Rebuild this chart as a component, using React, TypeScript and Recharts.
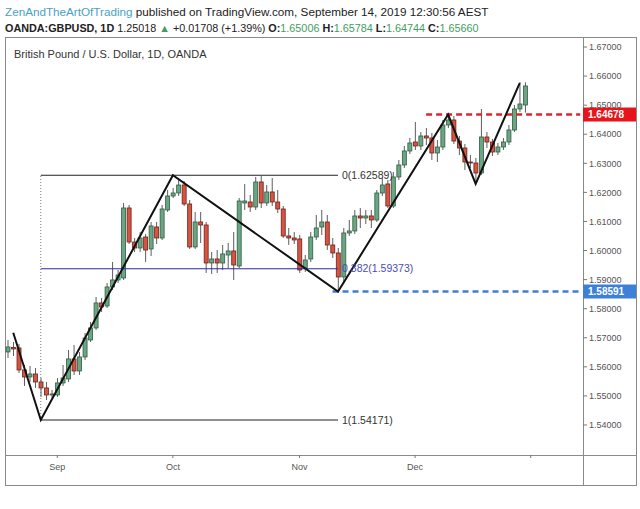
import { ComposedChart, Bar, Line, XAxis, YAxis, ReferenceLine } from 'recharts';

// GBPUSD daily candles (index 0 = first bar on the left)
const opens = [
  1.56512, 1.56666, 1.5665, 1.55893, 1.55652, 1.55755, 1.5548, 1.55274, 1.55033, 1.55033,
  1.55446, 1.55583, 1.56271, 1.55858, 1.5634, 1.56924, 1.57337, 1.58197, 1.58094, 1.58747,
  1.58988, 1.59057, 1.61464, 1.60294, 1.60088, 1.60466, 1.60054, 1.6081, 1.60432, 1.61395,
  1.61876, 1.61979, 1.62254, 1.61601, 1.60123, 1.60982, 1.60879, 1.59572, 1.5971, 1.59572,
  1.59847, 1.59985, 1.59469, 1.61636, 1.6167, 1.61498, 1.62358, 1.61636, 1.62014, 1.6167,
  1.61429, 1.60501, 1.60432, 1.60398, 1.594, 1.5971, 1.60466, 1.6081, 1.60982, 1.60191,
  1.59916, 1.59091, 1.60604, 1.60673, 1.61189, 1.6112, 1.61189, 1.61051, 1.61979, 1.62289,
  1.61532, 1.6253, 1.62942, 1.63424, 1.63733, 1.63596, 1.6394, 1.63871, 1.63355, 1.63561,
  1.64318, 1.6449, 1.63767, 1.63527, 1.63045, 1.63011, 1.62667, 1.63905, 1.63733, 1.63389,
  1.63561, 1.63733, 1.64146, 1.64868, 1.65006,
];
const highs = [
  1.56924, 1.56856, 1.56787, 1.56065, 1.5603, 1.55961, 1.55617, 1.5548, 1.55205, 1.55617,
  1.56065, 1.5658, 1.56752, 1.56512, 1.57165, 1.57543, 1.58403, 1.58369, 1.58885, 1.59607,
  1.59332, 1.61636, 1.61567, 1.60432, 1.60638, 1.60569, 1.60982, 1.60982, 1.61567, 1.62083,
  1.62151, 1.62495, 1.62392, 1.61739, 1.61326, 1.61326, 1.60982, 1.5995, 1.60019, 1.60191,
  1.6026, 1.60638, 1.61807, 1.62289, 1.61911, 1.6253, 1.62564, 1.62254, 1.62495, 1.62083,
  1.61532, 1.60776, 1.60638, 1.60535, 1.59847, 1.60638, 1.61223, 1.61395, 1.61223, 1.60432,
  1.60088, 1.60776, 1.61051, 1.61395, 1.61464, 1.61395, 1.61395, 1.62083, 1.62495, 1.62426,
  1.62701, 1.63114, 1.63596, 1.63871, 1.64421, 1.64077, 1.64215, 1.64043, 1.63802, 1.6449,
  1.64678, 1.64627, 1.6394, 1.63664, 1.63286, 1.63183, 1.64868, 1.64077, 1.63836, 1.63699,
  1.63871, 1.64318, 1.65005, 1.65796, 1.65784,
];
const lows = [
  1.56305, 1.56374, 1.5579, 1.55342, 1.5548, 1.55274, 1.54964, 1.54861, 1.5493, 1.54964,
  1.55342, 1.5548, 1.55721, 1.55721, 1.56237, 1.56856, 1.57268, 1.57887, 1.58025, 1.58644,
  1.58885, 1.58988, 1.60226, 1.5995, 1.5995, 1.59607, 1.59813, 1.60226, 1.60363, 1.61326,
  1.61807, 1.61876, 1.61532, 1.60054, 1.60054, 1.6026, 1.59228, 1.59194, 1.59228, 1.59332,
  1.594, 1.58988, 1.594, 1.61395, 1.61326, 1.61395, 1.61464, 1.61532, 1.61532, 1.61292,
  1.60432, 1.60191, 1.60226, 1.59228, 1.59263, 1.59607, 1.60363, 1.60535, 1.60019, 1.59744,
  1.58591, 1.58919, 1.60501, 1.60569, 1.60776, 1.60913, 1.60776, 1.60982, 1.61876, 1.61464,
  1.61464, 1.62426, 1.62839, 1.6332, 1.63458, 1.63458, 1.6363, 1.63114, 1.63045, 1.63458,
  1.64215, 1.63664, 1.63286, 1.6277, 1.62839, 1.62392, 1.62598, 1.63527, 1.63252, 1.63286,
  1.63458, 1.6363, 1.64077, 1.64765, 1.64744,
];
const closes = [
  1.56684, 1.56615, 1.55893, 1.55652, 1.55755, 1.5548, 1.55274, 1.55033, 1.55067, 1.55446,
  1.55617, 1.56271, 1.55858, 1.5634, 1.56993, 1.57337, 1.58197, 1.58059, 1.58747, 1.58988,
  1.5916, 1.61464, 1.60294, 1.60088, 1.60432, 1.60019, 1.60845, 1.60432, 1.61429, 1.61876,
  1.61979, 1.62254, 1.61601, 1.60123, 1.60982, 1.60879, 1.59572, 1.5971, 1.59572, 1.59882,
  1.59985, 1.59503, 1.61704, 1.61704, 1.61498, 1.62358, 1.61636, 1.62014, 1.6167, 1.61429,
  1.60501, 1.60432, 1.60363, 1.59332, 1.59675, 1.60466, 1.60776, 1.60982, 1.60191, 1.59916,
  1.59091, 1.60604, 1.60673, 1.61189, 1.6112, 1.61189, 1.61051, 1.61979, 1.62254, 1.61532,
  1.6253, 1.62942, 1.63424, 1.63699, 1.63596, 1.6394, 1.63871, 1.63355, 1.63561, 1.64318,
  1.6449, 1.63767, 1.63527, 1.63045, 1.63011, 1.62667, 1.63905, 1.63733, 1.63389, 1.63561,
  1.63733, 1.64146, 1.64868, 1.6504, 1.6566,
];

// hand-drawn zigzag (bar index -> price)
const zigIdx = [1, 6, 30, 60, 80, 85, 93];
const zigPrice = [1.5717, 1.54171, 1.62589, 1.58591, 1.64678, 1.6229, 1.6576];

// fib retracement
const fibLevels = [0, 0.382, 1];
const fibPrices = [1.62589, 1.59373, 1.54171];

const priceTicks = [1.54, 1.55, 1.56, 1.57, 1.58, 1.59, 1.6, 1.61, 1.62, 1.63, 1.64, 1.65, 1.66, 1.67];
const monthTicks = [9, 30, 53, 74, 95];
const monthLabels = ['Sep', 'Oct', 'Nov', 'Dec', ''];

const TOTAL_SLOTS = 105;
const UP = '#6ba583';
const DOWN = '#d75442';

const data = Array.from({ length: TOTAL_SLOTS }, (_, i) => {
  const z = zigIdx.indexOf(i);
  return {
    i,
    o: opens[i] ?? null,
    h: highs[i] ?? null,
    l: lows[i] ?? null,
    c: closes[i] ?? null,
    zz: z >= 0 ? zigPrice[z] : null,
  };
});

const Candle = (props: any) => {
  const { x, y, width, height, payload } = props;
  if (!payload || payload.o == null) return null;
  const { o, h, l, c } = payload;
  const top = Math.min(y, y + height);
  const full = Math.abs(height);
  const k = full / (h - l);
  const yO = top + (h - o) * k;
  const yC = top + (h - c) * k;
  const up = c >= o;
  const cx = x + width / 2;
  return (
    <g>
      <line x1={cx} x2={cx} y1={top} y2={top + full} stroke="#5d5d5d" strokeWidth={1} />
      <rect
        x={x}
        y={Math.min(yO, yC)}
        width={width}
        height={Math.max(1, Math.abs(yO - yC))}
        fill={up ? UP : DOWN}
        stroke={up ? '#2f5e43' : '#6b2219'}
        strokeWidth={0.8}
      />
    </g>
  );
};

const Badge = (props: any) => {
  const { viewBox, text, color } = props;
  if (!viewBox) return null;
  const x = viewBox.x + viewBox.width;
  const y = viewBox.y;
  return (
    <g>
      <rect x={x} y={y - 7} width={53} height={14} fill={color} />
      <text x={x + 5} y={y + 3.5} fill="#fff" fontSize={10} fontWeight="bold" fontFamily="Liberation Sans, Arial, sans-serif">
        {text}
      </text>
    </g>
  );
};

const green = '#3f9e5f';

export default function App() {
  return (
    <div style={{ position: 'absolute', left: 0, top: 0, width: 640, height: 509, background: '#fff', fontFamily: 'Liberation Sans, Arial, sans-serif' }}>
      <div style={{ position: 'absolute', left: 5, top: 5, fontSize: 11.7, color: '#222', whiteSpace: 'nowrap' }}>
        <span style={{ color: '#4a9fc8' }}>ZenAndTheArtOfTrading</span> published on TradingView.com, September 14, 2019 12:30:56 AEST
      </div>
      <div style={{ position: 'absolute', left: 5, top: 22, fontSize: 10.8, color: '#222', whiteSpace: 'nowrap' }}>
        <b>OANDA:GBPUSD, 1D</b> 1.25018 <span style={{ color: green }}>▲</span> +0.01708 (+1.39%) <b>O:</b>
        <span style={{ color: green }}>1.65006</span> <b>H:</b>
        <span style={{ color: green }}>1.65784</span> <b>L:</b>
        <span style={{ color: green }}>1.64744</span> <b>C:</b>
        <span style={{ color: green }}>1.65660</span>
      </div>

      <div style={{ position: 'absolute', left: 5, top: 37, width: 630, height: 447, border: '1px solid #8a8a8a' }} />
      <div style={{ position: 'absolute', left: 583, top: 37, width: 1, height: 448, background: '#8a8a8a' }} />
      <div style={{ position: 'absolute', left: 5, top: 455, width: 631, height: 1, background: '#8a8a8a' }} />

      <div style={{ position: 'absolute', left: 5, top: 37 }}>
        <ComposedChart width={631} height={448} data={data} margin={{ top: 0, right: 0, bottom: 0, left: 0 }}>
          <XAxis
            dataKey="i"
            type="category"
            ticks={monthTicks}
            interval={0}
            tickFormatter={(v) => monthLabels[monthTicks.indexOf(v)] ?? ''}
            height={30}
            axisLine={false}
            tickSize={3}
            tickLine={{ stroke: '#777' }}
            tick={{ fontSize: 9, fill: '#555' }}
            tickMargin={6}
          />
          <YAxis
            orientation="right"
            type="number"
            domain={[1.52968, 1.67344]}
            allowDataOverflow
            ticks={priceTicks}
            tickFormatter={(v) => v.toFixed(5)}
            width={53}
            axisLine={false}
            tickSize={4}
            tickLine={{ stroke: '#777' }}
            tick={{ fontSize: 9, fill: '#555', textAnchor: 'start' }}
            tickMargin={2}
          />

          <Bar dataKey={(d: any) => (d.h == null ? null : [d.l, d.h])} barSize={4} shape={<Candle />} isAnimationActive={false} />

          <ReferenceLine
            segment={[{ x: 6, y: fibPrices[2] }, { x: 6, y: fibPrices[0] }]}
            stroke="#777"
            strokeDasharray="1 2"
          />
          <ReferenceLine
            segment={[{ x: 6, y: fibPrices[0] }, { x: 60, y: fibPrices[0] }]}
            stroke="#222"
            strokeWidth={1.2}
            label={{ value: `${fibLevels[0]}(${fibPrices[0].toFixed(5)})`, position: 'right', fill: '#333', fontSize: 10.5, offset: 4 }}
          />
          <ReferenceLine
            segment={[{ x: 6, y: fibPrices[1] }, { x: 60, y: fibPrices[1] }]}
            stroke="#2b2ba0"
            strokeWidth={1.2}
            label={{ value: `${fibLevels[1]}(${fibPrices[1].toFixed(5)})`, position: 'right', fill: '#4b4bb5', fontSize: 10.5, offset: 4 }}
          />
          <ReferenceLine
            segment={[{ x: 6, y: fibPrices[2] }, { x: 60, y: fibPrices[2] }]}
            stroke="#222"
            strokeWidth={1.2}
            label={{ value: `${fibLevels[2]}(${fibPrices[2].toFixed(5)})`, position: 'right', fill: '#333', fontSize: 10.5, offset: 4 }}
          />

          <ReferenceLine
            segment={[{ x: 76, y: 1.64678 }, { x: 104, y: 1.64678 }]}
            stroke="#e0242b"
            strokeWidth={2.5}
            strokeDasharray="6 4"
          />
          <ReferenceLine
            segment={[{ x: 59, y: 1.58591 }, { x: 104, y: 1.58591 }]}
            stroke="#3f7fd0"
            strokeWidth={2.5}
            strokeDasharray="6 4"
          />

          <Line dataKey="zz" connectNulls stroke="#111" strokeWidth={2} dot={false} activeDot={false} isAnimationActive={false} />

          <ReferenceLine y={1.64678} stroke="none" label={<Badge text="1.64678" color="#e8141c" />} />
          <ReferenceLine y={1.58591} stroke="none" label={<Badge text="1.58591" color="#3d80d8" />} />
        </ComposedChart>
      </div>

      <div style={{ position: 'absolute', left: 14, top: 48, fontSize: 11, color: '#333', whiteSpace: 'nowrap' }}>
        British Pound / U.S. Dollar, 1D, OANDA
      </div>
    </div>
  );
}
